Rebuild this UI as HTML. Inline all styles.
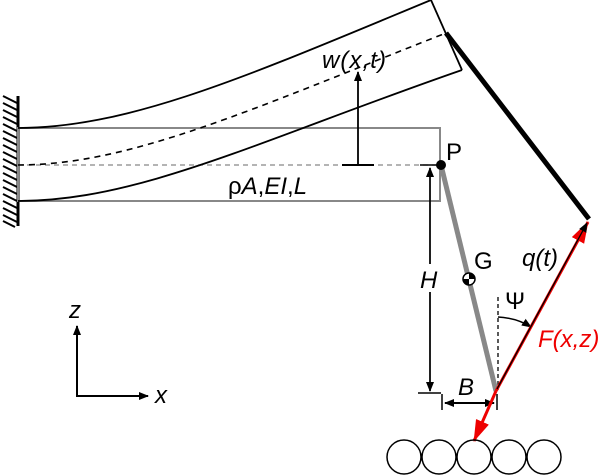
<!DOCTYPE html>
<html><head><meta charset="utf-8"><style>
html,body{margin:0;padding:0;background:#fff}
svg{display:block}
text{font-family:"Liberation Sans",Arial,sans-serif;font-size:24px}
</style></head><body>
<svg width="605" height="476" viewBox="0 0 605 476" xmlns="http://www.w3.org/2000/svg">
<defs>
<marker id="ab" markerWidth="10" markerHeight="10" refX="9" refY="5" orient="auto" markerUnits="userSpaceOnUse"><path d="M0,1 L10,5 L0,9 z" fill="#000"/></marker>
<marker id="ar" markerWidth="22" markerHeight="16" refX="21" refY="8" orient="auto" markerUnits="userSpaceOnUse"><path d="M0,1 L22,8 L0,15 z" fill="#e00"/></marker>
</defs>
<line x1="18" y1="96" x2="18" y2="226" stroke="#000" stroke-width="3"/>
<g stroke="#000" stroke-width="2">
<line x1="3" y1="96" x2="17" y2="103"/><line x1="3" y1="103" x2="17" y2="110"/><line x1="3" y1="110" x2="17" y2="117"/><line x1="3" y1="117" x2="17" y2="124"/><line x1="3" y1="124" x2="17" y2="131"/><line x1="3" y1="131" x2="17" y2="138"/><line x1="3" y1="138" x2="17" y2="145"/><line x1="3" y1="145" x2="17" y2="152"/><line x1="3" y1="152" x2="17" y2="159"/><line x1="3" y1="159" x2="17" y2="166"/><line x1="3" y1="166" x2="17" y2="173"/><line x1="3" y1="173" x2="17" y2="180"/><line x1="3" y1="180" x2="17" y2="187"/><line x1="3" y1="187" x2="17" y2="194"/><line x1="3" y1="194" x2="17" y2="201"/><line x1="3" y1="201" x2="17" y2="208"/><line x1="3" y1="208" x2="17" y2="215"/><line x1="3" y1="215" x2="17" y2="222"/><line x1="3" y1="221" x2="15" y2="227"/>
</g>
<rect x="18" y="128" width="422" height="73" fill="none" stroke="#888" stroke-width="2"/>
<line x1="18" y1="165" x2="440" y2="165" stroke="#888" stroke-width="1.3" stroke-dasharray="5,4"/>
<path d="M18,128 C130,128 250,75 431,0" fill="none" stroke="#000" stroke-width="1.8"/>
<path d="M18,201 C140,201 260,140 462,70" fill="none" stroke="#000" stroke-width="1.8"/>
<path d="M18,165 C130,165 250,110 446,33" fill="none" stroke="#000" stroke-width="1.6" stroke-dasharray="6,5"/>
<line x1="431" y1="0" x2="462" y2="70" stroke="#000" stroke-width="1.8"/>
<line x1="446" y1="33" x2="589" y2="219" stroke="#000" stroke-width="5"/>
<line x1="342" y1="165" x2="374" y2="165" stroke="#000" stroke-width="2"/>
<line x1="358" y1="165" x2="358" y2="72" stroke="#000" stroke-width="1.8" marker-end="url(#ab)"/>
<text x="322" y="68" font-style="italic" textLength="64">w(x,t)</text>
<text x="228" y="194">ρ<tspan font-style="italic">A</tspan>,<tspan font-style="italic">EI</tspan>,<tspan font-style="italic">L</tspan></text>
<line x1="441" y1="165" x2="496" y2="391" stroke="#888" stroke-width="5"/>
<circle cx="441" cy="165" r="5" fill="#000"/>
<text x="446" y="160">P</text>
<circle cx="469" cy="279" r="6" fill="#fff" stroke="#000" stroke-width="1.5"/>
<path d="M469,279 L469,273 A6,6 0 0 1 475,279 z M469,279 L469,285 A6,6 0 0 1 463,279 z" fill="#000"/>
<text x="474" y="269">G</text>
<line x1="420" y1="165" x2="438" y2="165" stroke="#000" stroke-width="1.5"/>
<line x1="430" y1="391" x2="430" y2="168" stroke="#000" stroke-width="1.5" marker-end="url(#ab)"/>
<line x1="430" y1="168" x2="430" y2="391" stroke="#000" stroke-width="1.5" marker-end="url(#ab)"/>
<rect x="418" y="264" width="24" height="28" fill="#fff"/>
<text x="420" y="288" font-style="italic">H</text>
<line x1="418" y1="393" x2="441" y2="393" stroke="#000" stroke-width="1.5"/>
<line x1="442" y1="394" x2="442" y2="410" stroke="#000" stroke-width="1.5"/>
<line x1="497" y1="394" x2="497" y2="410" stroke="#000" stroke-width="1.5"/>
<line x1="445" y1="403" x2="494" y2="403" stroke="#000" stroke-width="2" marker-end="url(#ab)"/>
<line x1="494" y1="403" x2="445" y2="403" stroke="#000" stroke-width="2" marker-end="url(#ab)"/>
<text x="458" y="395" font-style="italic">B</text>
<line x1="498" y1="297" x2="498" y2="390" stroke="#000" stroke-width="1.3" stroke-dasharray="4,3"/>
<path d="M498,317 Q517,318 531,327" fill="none" stroke="#000" stroke-width="1.5" marker-end="url(#ab)"/>
<text x="505" y="309">Ψ</text>
<line x1="496" y1="391" x2="588" y2="222" stroke="#e00" stroke-width="3" marker-end="url(#ar)"/>
<line x1="496" y1="391" x2="474" y2="441" stroke="#e00" stroke-width="3" marker-end="url(#ar)"/>
<line x1="497" y1="389" x2="587" y2="223" stroke="#000" stroke-width="1.3" marker-end="url(#ab)"/>
<text x="522" y="266" font-style="italic">q(t)</text>
<text x="538" y="347" font-style="italic" fill="#e00">F(x,z)</text>
<g fill="none" stroke="#000" stroke-width="1.5">
<circle cx="404" cy="457" r="17"/><circle cx="439" cy="457" r="17"/><circle cx="474" cy="457" r="17"/><circle cx="509" cy="457" r="17"/><circle cx="544" cy="457" r="17"/>
</g>
<line x1="77" y1="396" x2="77" y2="326" stroke="#000" stroke-width="2" marker-end="url(#ab)"/>
<line x1="76" y1="396" x2="148" y2="396" stroke="#000" stroke-width="2" marker-end="url(#ab)"/>
<text x="69" y="318" font-style="italic">z</text>
<text x="155" y="403" font-style="italic">x</text>
</svg>
</body></html>
